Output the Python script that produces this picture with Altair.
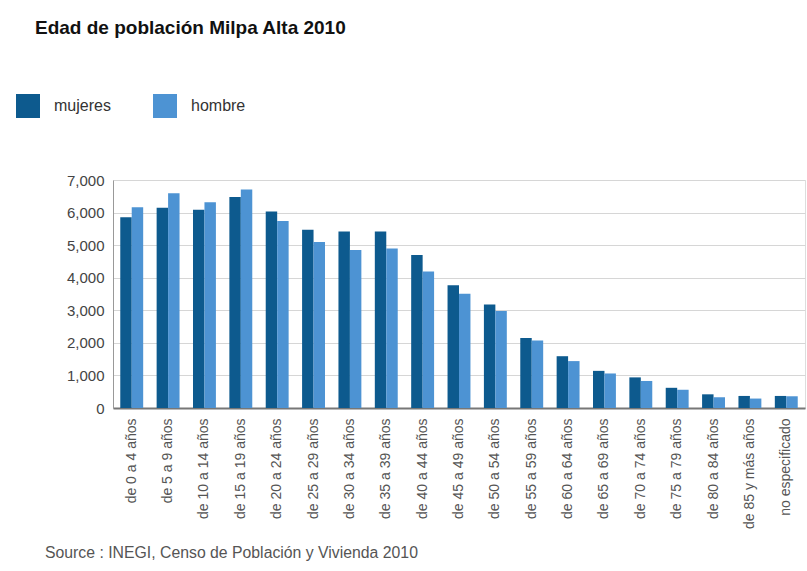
import altair as alt
import pandas as pd

categories = ["de 0 a 4 años", "de 5 a 9 años", "de 10 a 14 años", "de 15 a 19 años",
              "de 20 a 24 años", "de 25 a 29 años", "de 30 a 34 años", "de 35 a 39 años",
              "de 40 a 44 años", "de 45 a 49 años", "de 50 a 54 años", "de 55 a 59 años",
              "de 60 a 64 años", "de 65 a 69 años", "de 70 a 74 años", "de 75 a 79 años",
              "de 80 a 84 años", "de 85 y más años", "no especificado"]
mujeres = [5860, 6150, 6090, 6480, 6030, 5470, 5420, 5420, 4700, 3770, 3180,
           2150, 1590, 1140, 940, 620, 420, 370, 370]
hombre = [6160, 6590, 6320, 6710, 5740, 5100, 4850, 4900, 4190, 3510, 2980,
          2070, 1440, 1060, 830, 560, 330, 290, 360]
series = ["mujeres", "hombre"]
colors = ["#0d5a8e", "#4d93d3"]
source_note = ["Source : INEGI, Censo de Población y Vivienda 2010"]

rows = []
for i, c in enumerate(categories):
    rows.append({"grupo": c, "sexo": "mujeres", "valor": mujeres[i]})
    rows.append({"grupo": c, "sexo": "hombre", "valor": hombre[i]})
df = pd.DataFrame(rows)

FONT = "Liberation Sans"

bars = alt.Chart(df).mark_bar().encode(
    x=alt.X("grupo:N", sort=categories, title=None,
            scale=alt.Scale(paddingInner=0.37, paddingOuter=0.2),
            axis=alt.Axis(labelAngle=-90, labelFontSize=14, labelColor="#555555",
                          labelFont=FONT, ticks=False, labelPadding=10,
                          domainColor="#777777", domainWidth=2)),
    xOffset=alt.XOffset("sexo:N", sort=series),
    y=alt.Y("valor:Q", title=None,
            scale=alt.Scale(domain=[0, 7000]),
            axis=alt.Axis(values=[0, 1000, 2000, 3000, 4000, 5000, 6000, 7000],
                          format=",.0f", labelFontSize=15, labelColor="#444444",
                          labelFont=FONT, ticks=False, labelPadding=9,
                          domainColor="#999999", gridColor="#d6d6d6")),
    color=alt.Color("sexo:N", sort=series,
                    scale=alt.Scale(domain=series, range=colors),
                    legend=alt.Legend(title=None, orient="none", direction="horizontal",
                                      legendX=-97, legendY=-86,
                                      symbolType="square", symbolSize=576,
                                      symbolStrokeWidth=0, labelFontSize=16,
                                      labelFont=FONT, labelColor="#333333",
                                      labelOffset=14, columnPadding=42)),
)

note = alt.Chart(pd.DataFrame({"t": source_note})).mark_text(
    align="left", baseline="middle", fontSize=15.8, font=FONT, color="#555555"
).encode(text="t:N", x=alt.value(-68), y=alt.value(373))

chart = alt.layer(bars, note).properties(
    width=692, height=228,
    title=alt.TitleParams("Edad de población Milpa Alta 2010", anchor="start",
                          frame="group", dx=-78, offset=41, baseline="alphabetic",
                          fontSize=19, fontWeight="bold", font=FONT, color="#111111"),
    autosize=alt.AutoSizeParams(type="none"),
    padding={"left": 113, "top": 180, "right": 2, "bottom": 163},
).configure_view(stroke=None).configure(background="white")

chart.save("out.html", embed_options={"renderer": "svg", "actions": False})
